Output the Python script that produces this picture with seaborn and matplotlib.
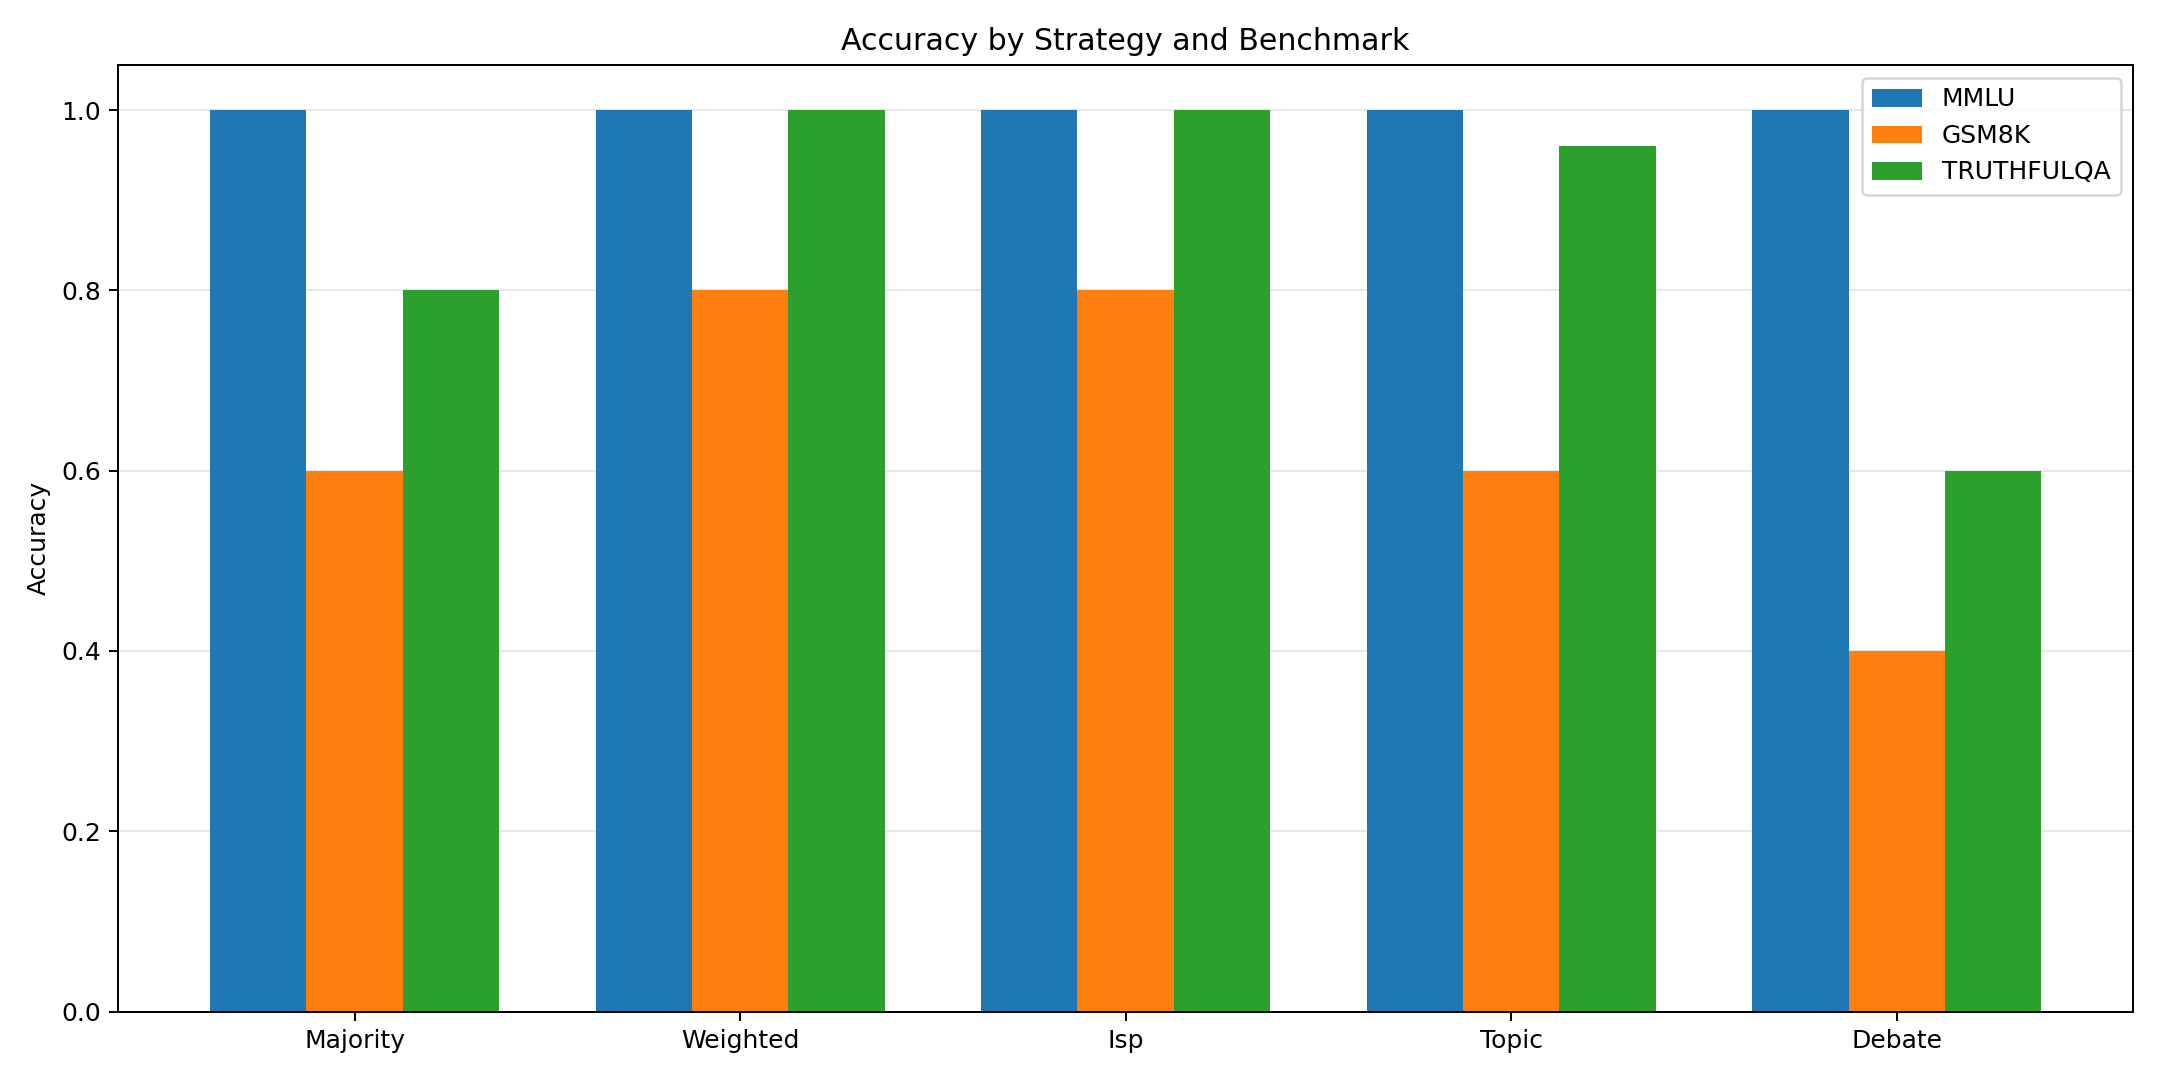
import matplotlib
matplotlib.use('Agg')
import matplotlib.pyplot as plt
import seaborn as sns
import pandas as pd

strategies = ['Majority', 'Weighted', 'Isp', 'Topic', 'Debate']
benchmarks = ['MMLU', 'GSM8K', 'TRUTHFULQA']
mmlu = [1.0, 1.0, 1.0, 1.0, 1.0]
gsm8k = [0.6, 0.8, 0.8, 0.6, 0.4]
truthfulqa = [0.8, 1.0, 1.0, 0.96, 0.6]

df = pd.DataFrame({
    'strategy': strategies * 3,
    'benchmark': [b for b in benchmarks for _ in strategies],
    'accuracy': mmlu + gsm8k + truthfulqa,
})

fig, ax = plt.subplots(figsize=(12, 6), dpi=180)
sns.barplot(data=df, x='strategy', y='accuracy', hue='benchmark',
            hue_order=benchmarks, order=strategies,
            palette=['#1f77b4', '#ff7f0e', '#2ca02c'], saturation=1,
            width=0.75, errorbar=None, ax=ax)

ax.set_xlim(-0.6125, 4.6125)
ax.set_ylim(0, 1.05)
ax.set_xlabel('')
ax.set_ylabel('Accuracy')
ax.set_title('Accuracy by Strategy and Benchmark')
ax.grid(axis='y', alpha=0.3)
ax.set_axisbelow(True)
ax.legend(loc='upper right')

plt.tight_layout()
plt.savefig('out.png', dpi=180)
